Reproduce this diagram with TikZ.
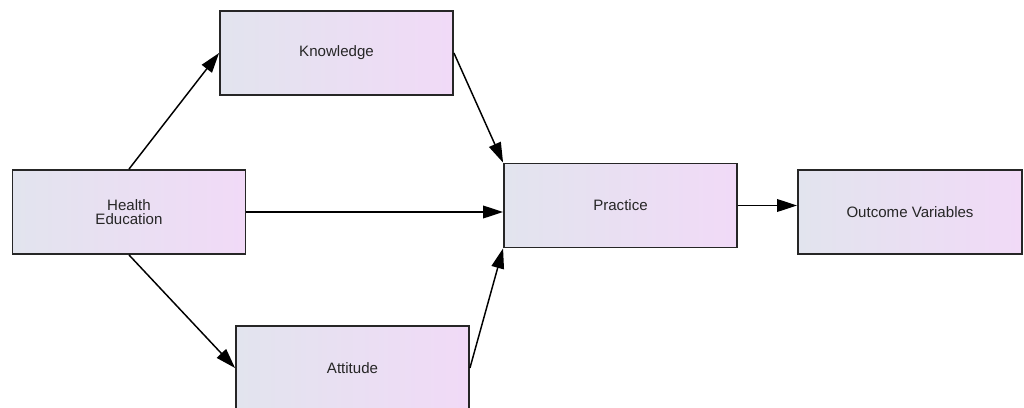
\documentclass[tikz,border=0pt]{standalone}
\usepackage{fontspec}
\setmainfont{Liberation Sans}
\usetikzlibrary{arrows.meta}

\definecolor{boxleft}{HTML}{E2E4EE}
\definecolor{boxright}{HTML}{F1DAF7}

\tikzstyle{block} = [draw=black!85, line width=1.4pt, rectangle,
    left color=boxleft, right color=boxright,
    minimum height=63pt, minimum width=174.75pt,
    text=black!85, align=center, font=\fontsize{11.3}{10.5}\selectfont]
\tikzstyle{link} = [black, line width=1.1pt, -{Triangle[length=15pt,width=9.5pt]}]

\begin{document}
\begin{tikzpicture}[x=0.75pt, y=-0.75pt]
          \clip (0,0) rectangle (1024,407);
          \fill[white] (0,0) rectangle (1024,407);

          \node (health) [block] at (129,212) {Health\\Education};
          \node (know) [block] at (336.5,53) {Knowledge};
          \node (att) [block] at (352.5,368) {Attitude};
          \node (prac) [block] at (620.5,205.5) {Practice};
          \node (outc) [block, minimum width=168pt] at (910,212) {Outcome Variables};

          \draw [link] (health.north) -- (know.west);
          \draw [link] (health.south) -- (att.west);
          \draw [link] (health.east) -- (health.east -| prac.west);
          \draw [link] (know.east) -- (prac.north west);
          \draw [link] (att.east) -- (prac.south west);
          \draw [link] (prac.east) -- (prac.east -| outc.west);
        \end{tikzpicture}
\end{document}
